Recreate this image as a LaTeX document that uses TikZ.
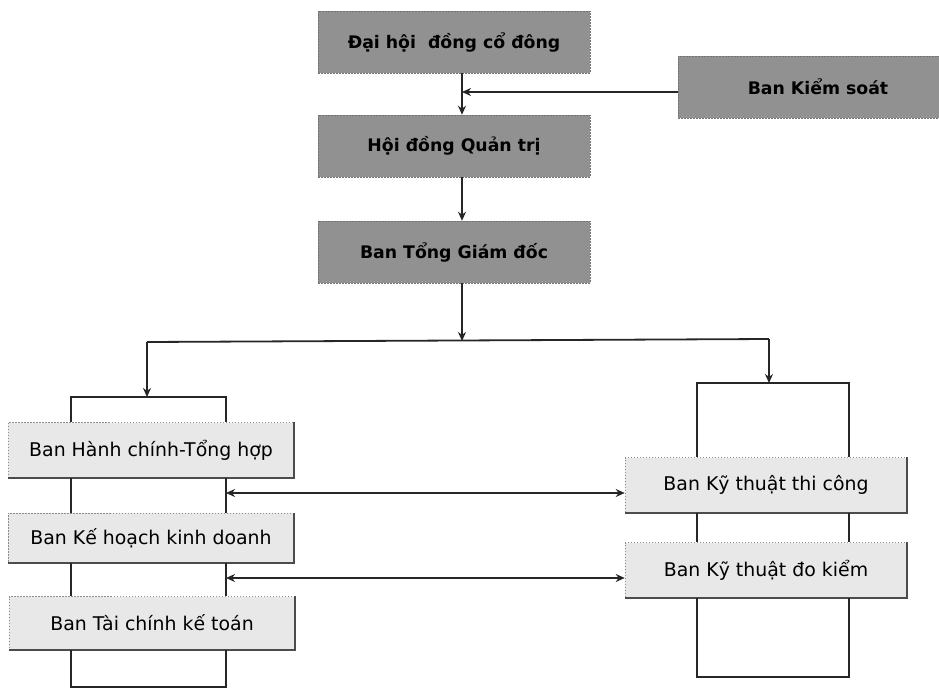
\documentclass[tikz,border=0pt]{standalone}
\usepackage{fontspec}
\setmainfont{DejaVu Sans}
\usetikzlibrary{arrows.meta}
\begin{document}
\begin{tikzpicture}[x=1pt,y=-1pt,
  topbox/.style={rectangle, fill=black!43, draw=black!55, dash pattern=on 2pt off 1pt, line width=0.5pt, minimum height=62pt, inner sep=0pt, font=\fontsize{17.3}{21}\selectfont\bfseries, text=black},
  lbox/.style={rectangle, fill=black!9, draw=black!45, dash pattern=on 1.5pt off 1.5pt, line width=0.6pt, minimum width=286pt, minimum height=54pt, inner sep=0pt, font=\fontsize{18.9}{22}\selectfont, text=black},
  edgeline/.style={line width=1.8pt, draw=black!85},
  arr/.style={edgeline, -{Stealth[length=9pt,width=8pt]}},
  darr/.style={edgeline, {Stealth[length=9pt,width=8pt]}-{Stealth[length=9pt,width=8pt]}},
  shadeedge/.style={line width=2.2pt, draw=black!70}
]
\useasboundingbox (0,0) rectangle (939,690);
\fill[white] (0,0) rectangle (939,690);

% top boxes
\node[topbox, minimum width=272pt] (dhcd) at (454,42) {Đại hội\ \ đồng cổ đông};
\node[topbox, minimum width=272pt] (hdqt) at (454,146) {Hội đồng Quản trị};
\node[topbox, minimum width=272pt] (btgd) at (454,252) {Ban Tổng Giám đốc};
\node[topbox, minimum width=280pt] (bks) at (818,87) {Ban Kiểm soát};

% left column
\node[lbox, minimum height=55pt] (bhc) at (151,450) {Ban Hành chính-Tổng hợp};
\node[lbox, minimum height=50pt] (bkh) at (151,538) {Ban Kế hoạch kinh doanh};
\node[lbox, minimum height=53pt] (btc) at (152,623) {Ban Tài chính kế toán};

% right column
\node[lbox, minimum width=282pt, minimum height=55pt] (bkt) at (766,485) {Ban Kỹ thuật thi công};
\node[lbox, minimum width=282pt, minimum height=55pt] (bdk) at (766,570) {Ban Kỹ thuật đo kiểm};

\foreach \n in {bhc,bkh,btc,bkt,bdk}{
  \draw[shadeedge] (\n.north east) -- (\n.south east) -- (\n.south west);
}

% vertical axis of the top chain
\coordinate (vx) at (462,0);
\draw[arr] (dhcd.south -| vx) -- (hdqt.north -| vx);
\draw[arr] (hdqt.south -| vx) -- (btgd.north -| vx);
\draw[arr] ([yshift=-5pt]bks.west) -- ([yshift=-5pt]bks.west -| vx);

% branch
\coordinate (jn) at (462,341);
\coordinate (jl) at (147,342);
\coordinate (jr) at (769,339);
\draw[arr] (btgd.south -| vx) -- (jn);
\draw[edgeline] (jl) -- (jr);
\coordinate (lbt) at (147,397);
\coordinate (rbt) at (769,383);
\draw[arr] (jl) -- (lbt);
\draw[arr] (jr) -- (rbt);

% left bracket
\coordinate (lb1) at (71,397);
\coordinate (lb2) at (226,397);
\coordinate (lb3) at (71,687);
\coordinate (lb4) at (226,687);
\draw[edgeline] (bhc.north -| lb1) -- (lb1) -- (lb2) -- (bhc.north -| lb2);
\draw[edgeline] (bhc.south -| lb1) -- (bkh.north -| lb1);
\draw[edgeline] (bhc.south -| lb2) -- (bkh.north -| lb2);
\draw[edgeline] (bkh.south -| lb1) -- (btc.north -| lb1);
\draw[edgeline] (bkh.south -| lb2) -- (btc.north -| lb2);
\draw[edgeline] (btc.south -| lb3) -- (lb3) -- (lb4) -- (btc.south -| lb4);

% right bracket
\coordinate (rb1) at (697,383);
\coordinate (rb2) at (849,383);
\coordinate (rb3) at (697,677);
\coordinate (rb4) at (849,677);
\draw[edgeline] (bkt.north -| rb1) -- (rb1) -- (rb2) -- (bkt.north -| rb2);
\draw[edgeline] (bkt.south -| rb1) -- (bdk.north -| rb1);
\draw[edgeline] (bkt.south -| rb2) -- (bdk.north -| rb2);
\draw[edgeline] (bdk.south -| rb3) -- (rb3) -- (rb4) -- (bdk.south -| rb4);

% cross links
\coordinate (la1) at (226,493);
\coordinate (la2) at (226,578);
\draw[darr] (la1) -- (la1 -| bkt.west);
\draw[darr] (la2) -- (la2 -| bdk.west);
\end{tikzpicture}
\end{document}
